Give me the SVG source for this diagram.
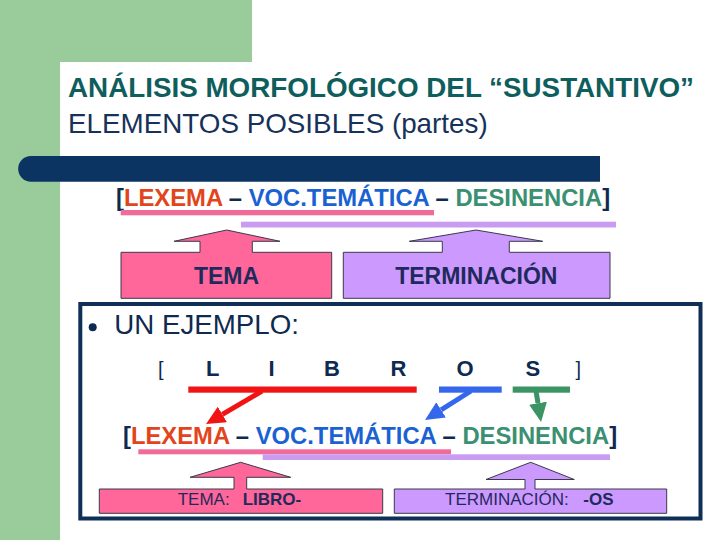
<svg xmlns="http://www.w3.org/2000/svg" width="720" height="540" viewBox="0 0 720 540">
<style>
text{font-family:"Liberation Sans",Arial,sans-serif}
.navy{fill:#0F2A50}
.lex{fill:#E2451C}
.voc{fill:#1A62D2}
.des{fill:#3A9070}
.frm{font-weight:bold;font-size:23.8px}
.boxtxt{fill:#1F2A5C}
.pinkfill{fill:#FF6699;stroke:#3A3A4A;stroke-width:1}
.purpfill{fill:#CC99FF;stroke:#3A3A4A;stroke-width:1}
.ul-pink{fill:#F06A9A}
.ul-purp{fill:#C99CF2}
.let{font-weight:bold;font-size:22px;fill:#0F2A50}
</style>
<defs>
<marker id="hr" markerUnits="userSpaceOnUse" markerWidth="19" markerHeight="18" viewBox="0 0 19 18" refX="0" refY="9" orient="auto"><path d="M0,0 L19,9 L0,18 Z" fill="#F01414"/></marker>
<marker id="hb" markerUnits="userSpaceOnUse" markerWidth="19" markerHeight="18" viewBox="0 0 19 18" refX="0" refY="9" orient="auto"><path d="M0,0 L19,9 L0,18 Z" fill="#3567EC"/></marker>
<marker id="hg" markerUnits="userSpaceOnUse" markerWidth="19" markerHeight="18" viewBox="0 0 19 18" refX="0" refY="9" orient="auto"><path d="M0,0 L19,9 L0,18 Z" fill="#3A9464"/></marker>
</defs>

<!-- background -->
<rect x="0" y="0" width="720" height="540" fill="#FFFFFF"/>
<rect x="0" y="0" width="252" height="62" fill="#9ACB9A"/>
<rect x="0" y="0" width="60" height="540" fill="#9ACB9A"/>
<rect x="60" y="62" width="700" height="520" rx="12" fill="#FFFFFF"/>
<path d="M600,156 H31 A12.8,12.8 0 0 0 31,181.7 H600 Z" fill="#0B3463"/>

<g id="title">
<text x="68" y="97" font-size="27.8" font-weight="bold" fill="#0F5E5E">ANÁLISIS MORFOLÓGICO DEL “SUSTANTIVO”</text>
<text x="68" y="133" font-size="27.8" fill="#17325A">ELEMENTOS POSIBLES (partes)</text>
</g>

<g id="formula-top">
<text x="116" y="206" class="frm"><tspan class="navy">[</tspan><tspan class="lex">LEXEMA</tspan><tspan class="navy"> – </tspan><tspan class="voc">VOC.TEMÁTICA</tspan><tspan class="navy"> – </tspan><tspan class="des">DESINENCIA</tspan><tspan class="navy">]</tspan></text>
<rect x="120.7" y="210" width="313.3" height="5.3" class="ul-pink"/>
<rect x="241" y="221.7" width="375" height="5.8" class="ul-purp"/>
</g>

<g id="tema-top">
<path class="pinkfill" d="M121,252.3 H200 V241.3 H174 L226.7,230 L280,241.3 H252.3 V252.3 H331.7 V298.3 H121 Z"/>
<text x="226.5" y="284.3" font-size="23" font-weight="bold" text-anchor="middle" class="boxtxt">TEMA</text>
</g>

<g id="terminacion-top">
<path class="purpfill" d="M343.3,252.3 H442.3 V241.3 H409.3 L476,230 L542.7,241.3 H509.3 V252.3 H610 V298.3 H343.3 Z"/>
<text x="476.3" y="284.3" font-size="23" font-weight="bold" text-anchor="middle" class="boxtxt">TERMINACIÓN</text>
</g>

<g id="example-box">
<rect x="80.3" y="304" width="620.2" height="214.5" fill="#FFFFFF" stroke="#0F2F57" stroke-width="4"/>
<circle cx="92.7" cy="327.3" r="4" fill="#0F2A50"/>
<text x="114.3" y="334.3" font-size="27.7" class="navy">UN EJEMPLO:</text>
</g>

<g id="word">
<text x="158" y="376" font-size="20" class="navy">[</text>
<text x="206" y="375.5" class="let">L</text>
<text x="268.5" y="375.5" class="let">I</text>
<text x="324" y="375.5" class="let">B</text>
<text x="390.5" y="375.5" class="let">R</text>
<text x="456.5" y="375.5" class="let">O</text>
<text x="525.5" y="375.5" class="let">S</text>
<text x="575.5" y="376" font-size="20" class="navy">]</text>
<rect x="188.3" y="386.5" width="228.4" height="6.2" fill="#F01414"/>
<rect x="439" y="386.5" width="62.7" height="6.2" fill="#3567EC"/>
<rect x="512.7" y="386.5" width="57.3" height="6.2" fill="#3A9464"/>
</g>

<g id="connectors">
<line x1="262" y1="391" x2="222.4" y2="414.4" stroke="#F01414" stroke-width="5" marker-end="url(#hr)"/>
<line x1="471" y1="391" x2="441.1" y2="409.9" stroke="#3567EC" stroke-width="5" marker-end="url(#hb)"/>
<line x1="536" y1="391" x2="538" y2="403.2" stroke="#3A9464" stroke-width="5" marker-end="url(#hg)"/>
</g>

<g id="formula-bottom">
<text x="123" y="444.3" class="frm"><tspan class="navy">[</tspan><tspan class="lex">LEXEMA</tspan><tspan class="navy"> – </tspan><tspan class="voc">VOC.TEMÁTICA</tspan><tspan class="navy"> – </tspan><tspan class="des">DESINENCIA</tspan><tspan class="navy">]</tspan></text>
<rect x="138.3" y="449.3" width="312.7" height="5" class="ul-pink"/>
<rect x="262.7" y="454.3" width="347.3" height="5.7" class="ul-purp"/>
</g>

<g id="tema-bottom">
<path class="pinkfill" d="M99.3,489 H234 V477.3 H190 L240.7,462.3 L290.7,477.3 H246.7 V489 H382.7 V513.3 H99.3 Z"/>
<text y="505.3" font-size="17" class="boxtxt"><tspan x="177.7">TEMA:</tspan><tspan x="242.7" font-weight="bold">LIBRO-</tspan></text>
</g>

<g id="terminacion-bottom">
<path class="purpfill" d="M394.3,489 H525 V479.5 H486 L530.7,462.3 L574.3,479.5 H535 V489 H666.7 V513.3 H394.3 Z"/>
<text y="505.3" font-size="17" class="boxtxt"><tspan x="445">TERMINACIÓN:</tspan><tspan x="583.3" font-weight="bold">-OS</tspan></text>
</g>
</svg>
